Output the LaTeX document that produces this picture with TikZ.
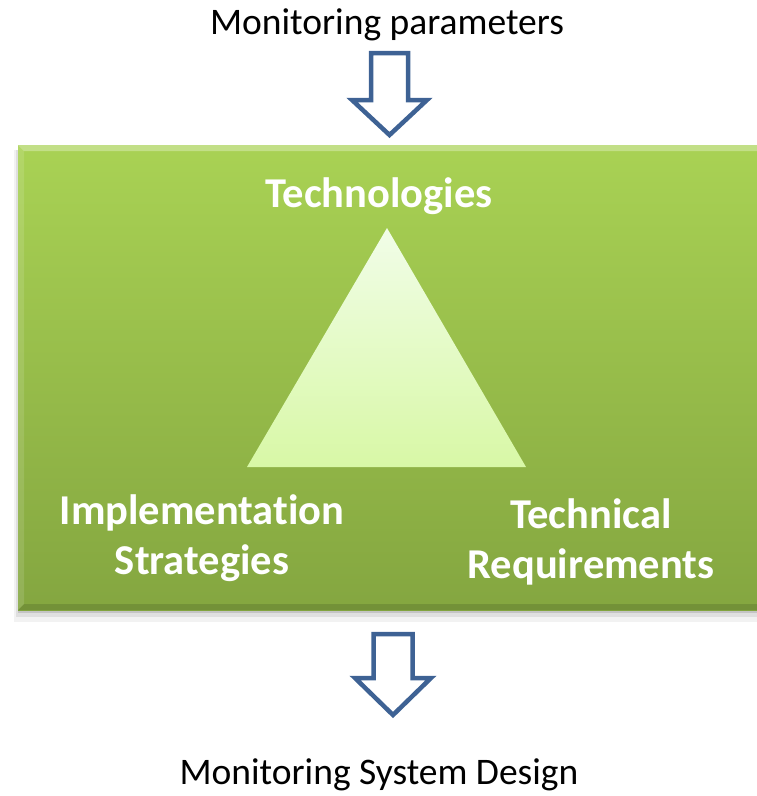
\documentclass[tikz,border=0pt]{standalone}
\usepackage{fontspec}
\setmainfont{Carlito}[RawFeature=-liga]
\usetikzlibrary{positioning}
\definecolor{boxtop}{HTML}{A9D254}
\definecolor{boxbottom}{HTML}{84A640}
\definecolor{tritop}{HTML}{F1FDE8}
\definecolor{tribottom}{HTML}{D8F8A6}
\definecolor{arrowblue}{HTML}{3E6294}

\begin{document}
\begin{tikzpicture}[x=1pt, y=-1pt,
            caption/.style={font=\fontsize{37.5}{42}\selectfont, text=black, inner sep=0pt},
            corner/.style={font=\bfseries\fontsize{42.5}{50}\selectfont, text=white, align=center},
            blockarrow/.style={draw=arrowblue, line width=4.5pt, fill=white, line join=miter}]
            \useasboundingbox (0,0) rectangle (757,796);
            % shadow and box
            \fill[black, opacity=0.05] (14,150) rectangle (757,622);
            \fill[black, opacity=0.08] (16,150) rectangle (757,617);
            \fill[black, opacity=0.12] (18,150) rectangle (757,613);
            \shade[top color=boxtop, bottom color=boxbottom] (18,145) rectangle (757,610);
            \fill[white, opacity=0.3] (18,145) -- (757,145) -- (757,151) -- (24,151) -- cycle;
            \fill[white, opacity=0.12] (18,145) -- (24,151) -- (24,604) -- (18,610) -- cycle;
            \fill[black, opacity=0.12] (18,610) -- (24,604) -- (757,604) -- (757,610) -- cycle;
            % triangle
            \shade[top color=tritop, bottom color=tribottom] (387,228) -- (526,467) -- (247,467) -- cycle;
            % texts
            \node[caption] (params) at (387,25) {Monitoring parameters};
            \node[caption] (design) at (379,775) {Monitoring System Design};
            \node[corner] (tech) at (379,196) {Technologies};
            \node[corner] (impl) at (202,538) {Implementation\\Strategies};
            \node[corner] (req) at (591,542) {Technical\\Requirements};
            % arrows
            \draw[blockarrow] (371,53) -- (408,53) -- (408,100) -- (427,100) -- (389.5,135)
                -- (352,100) -- (371,100) -- cycle;
            \draw[blockarrow] (373.5,634) -- (412.5,634) -- (412.5,678) -- (431,678) -- (393,715)
                -- (355,678) -- (373.5,678) -- cycle;
        \end{tikzpicture}
\end{document}
